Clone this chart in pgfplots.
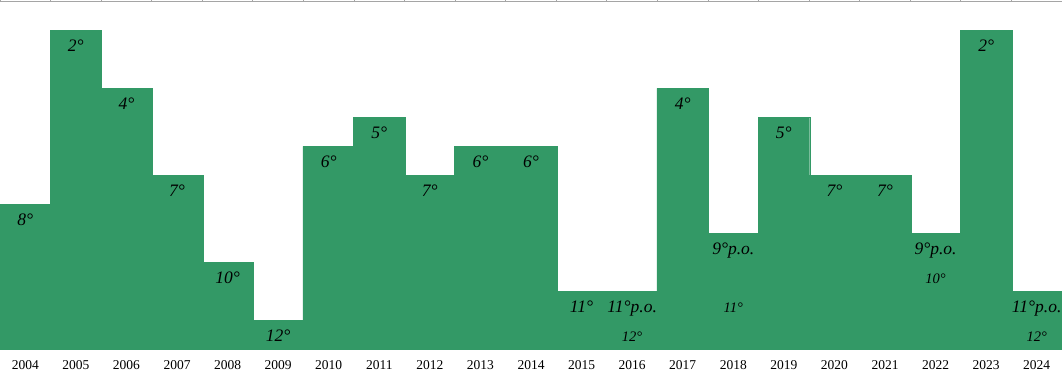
\documentclass[border=0pt]{standalone}
\usepackage{pgfplots}
\pgfplotsset{compat=1.18}
\usepackage{fontspec}
\setmainfont{Liberation Serif}
\definecolor{barg}{RGB}{51,153,102}
\definecolor{axg}{RGB}{165,165,165}
\begin{document}
\begin{tikzpicture}
\begin{axis}[
  scale only axis, width=1062pt, height=348pt,
  xmin=-0.5, xmax=20.5, ymin=0, ymax=12,
  axis line style={draw=none},
  ytick=\empty,
  xtick={0,...,20},
  xticklabels={2004,2005,2006,2007,2008,2009,2010,2011,2012,2013,2014,2015,2016,2017,2018,2019,2020,2021,2022,2023,2024},
  minor xtick={-0.5,0.5,...,20.5},
  major tick length=0pt,
  minor tick length=3pt,
  tick align=outside,
  xtick pos=upper,
  minor tick style={draw=axg, line width=0.8pt},
  xticklabel pos=lower,
  xticklabel style={font=\fontsize{13.5}{15}\selectfont, anchor=base, yshift=-20pt},
]
\coordinate (bl) at (rel axis cs:0,0);
\coordinate (tr) at (rel axis cs:1,1);
% bars: y = 13 - rank
\addplot[ybar, bar width=1.02, bar shift=0pt, fill=barg, draw=barg, line width=0.3pt]
  table[x=x, y expr=13-\thisrow{rank}] {
x rank
0 8
1 2
2 4
3 7
4 10
5 12
6 6
7 5
8 7
9 6
10 6
11 11
12 11
13 4
14 9
15 5
16 7
17 7
18 9
19 2
20 11
};
% main labels
\addplot[draw=none, mark=none, nodes near coords, point meta=explicit symbolic,
  nodes near coords style={anchor=base, yshift=-21pt, text=black,
    font=\fontsize{17.5}{20}\selectfont\itshape}]
  table[x=x, y expr=13-\thisrow{rank}, meta=lab] {
x rank lab
0 8 8°
1 2 2°
2 4 4°
3 7 7°
4 10 10°
5 12 12°
6 6 6°
7 5 5°
8 7 7°
9 6 6°
10 6 6°
11 11 11°
12 11 11°p.o.
13 4 4°
14 9 9°p.o.
15 5 5°
16 7 7°
17 7 7°
18 9 9°p.o.
19 2 2°
20 11 11°p.o.
};
% secondary labels
\addplot[draw=none, mark=none, nodes near coords, point meta=explicit symbolic,
  nodes near coords style={anchor=base, yshift=-21pt, text=black,
    font=\fontsize{14.5}{16}\selectfont\itshape}]
  table[x=x, y expr=13-\thisrow{rank}, meta=lab] {
x rank lab
12 12 12°
14 11 11°
18 10 10°
20 12 12°
};
\draw[axg, line width=1pt] (rel axis cs:0,1) -- (rel axis cs:1,1);
\end{axis}
\pgfresetboundingbox
\path[use as bounding box] ([yshift=-26.5pt]bl) rectangle ([yshift=1.5pt]tr);
\end{tikzpicture}
\end{document}
